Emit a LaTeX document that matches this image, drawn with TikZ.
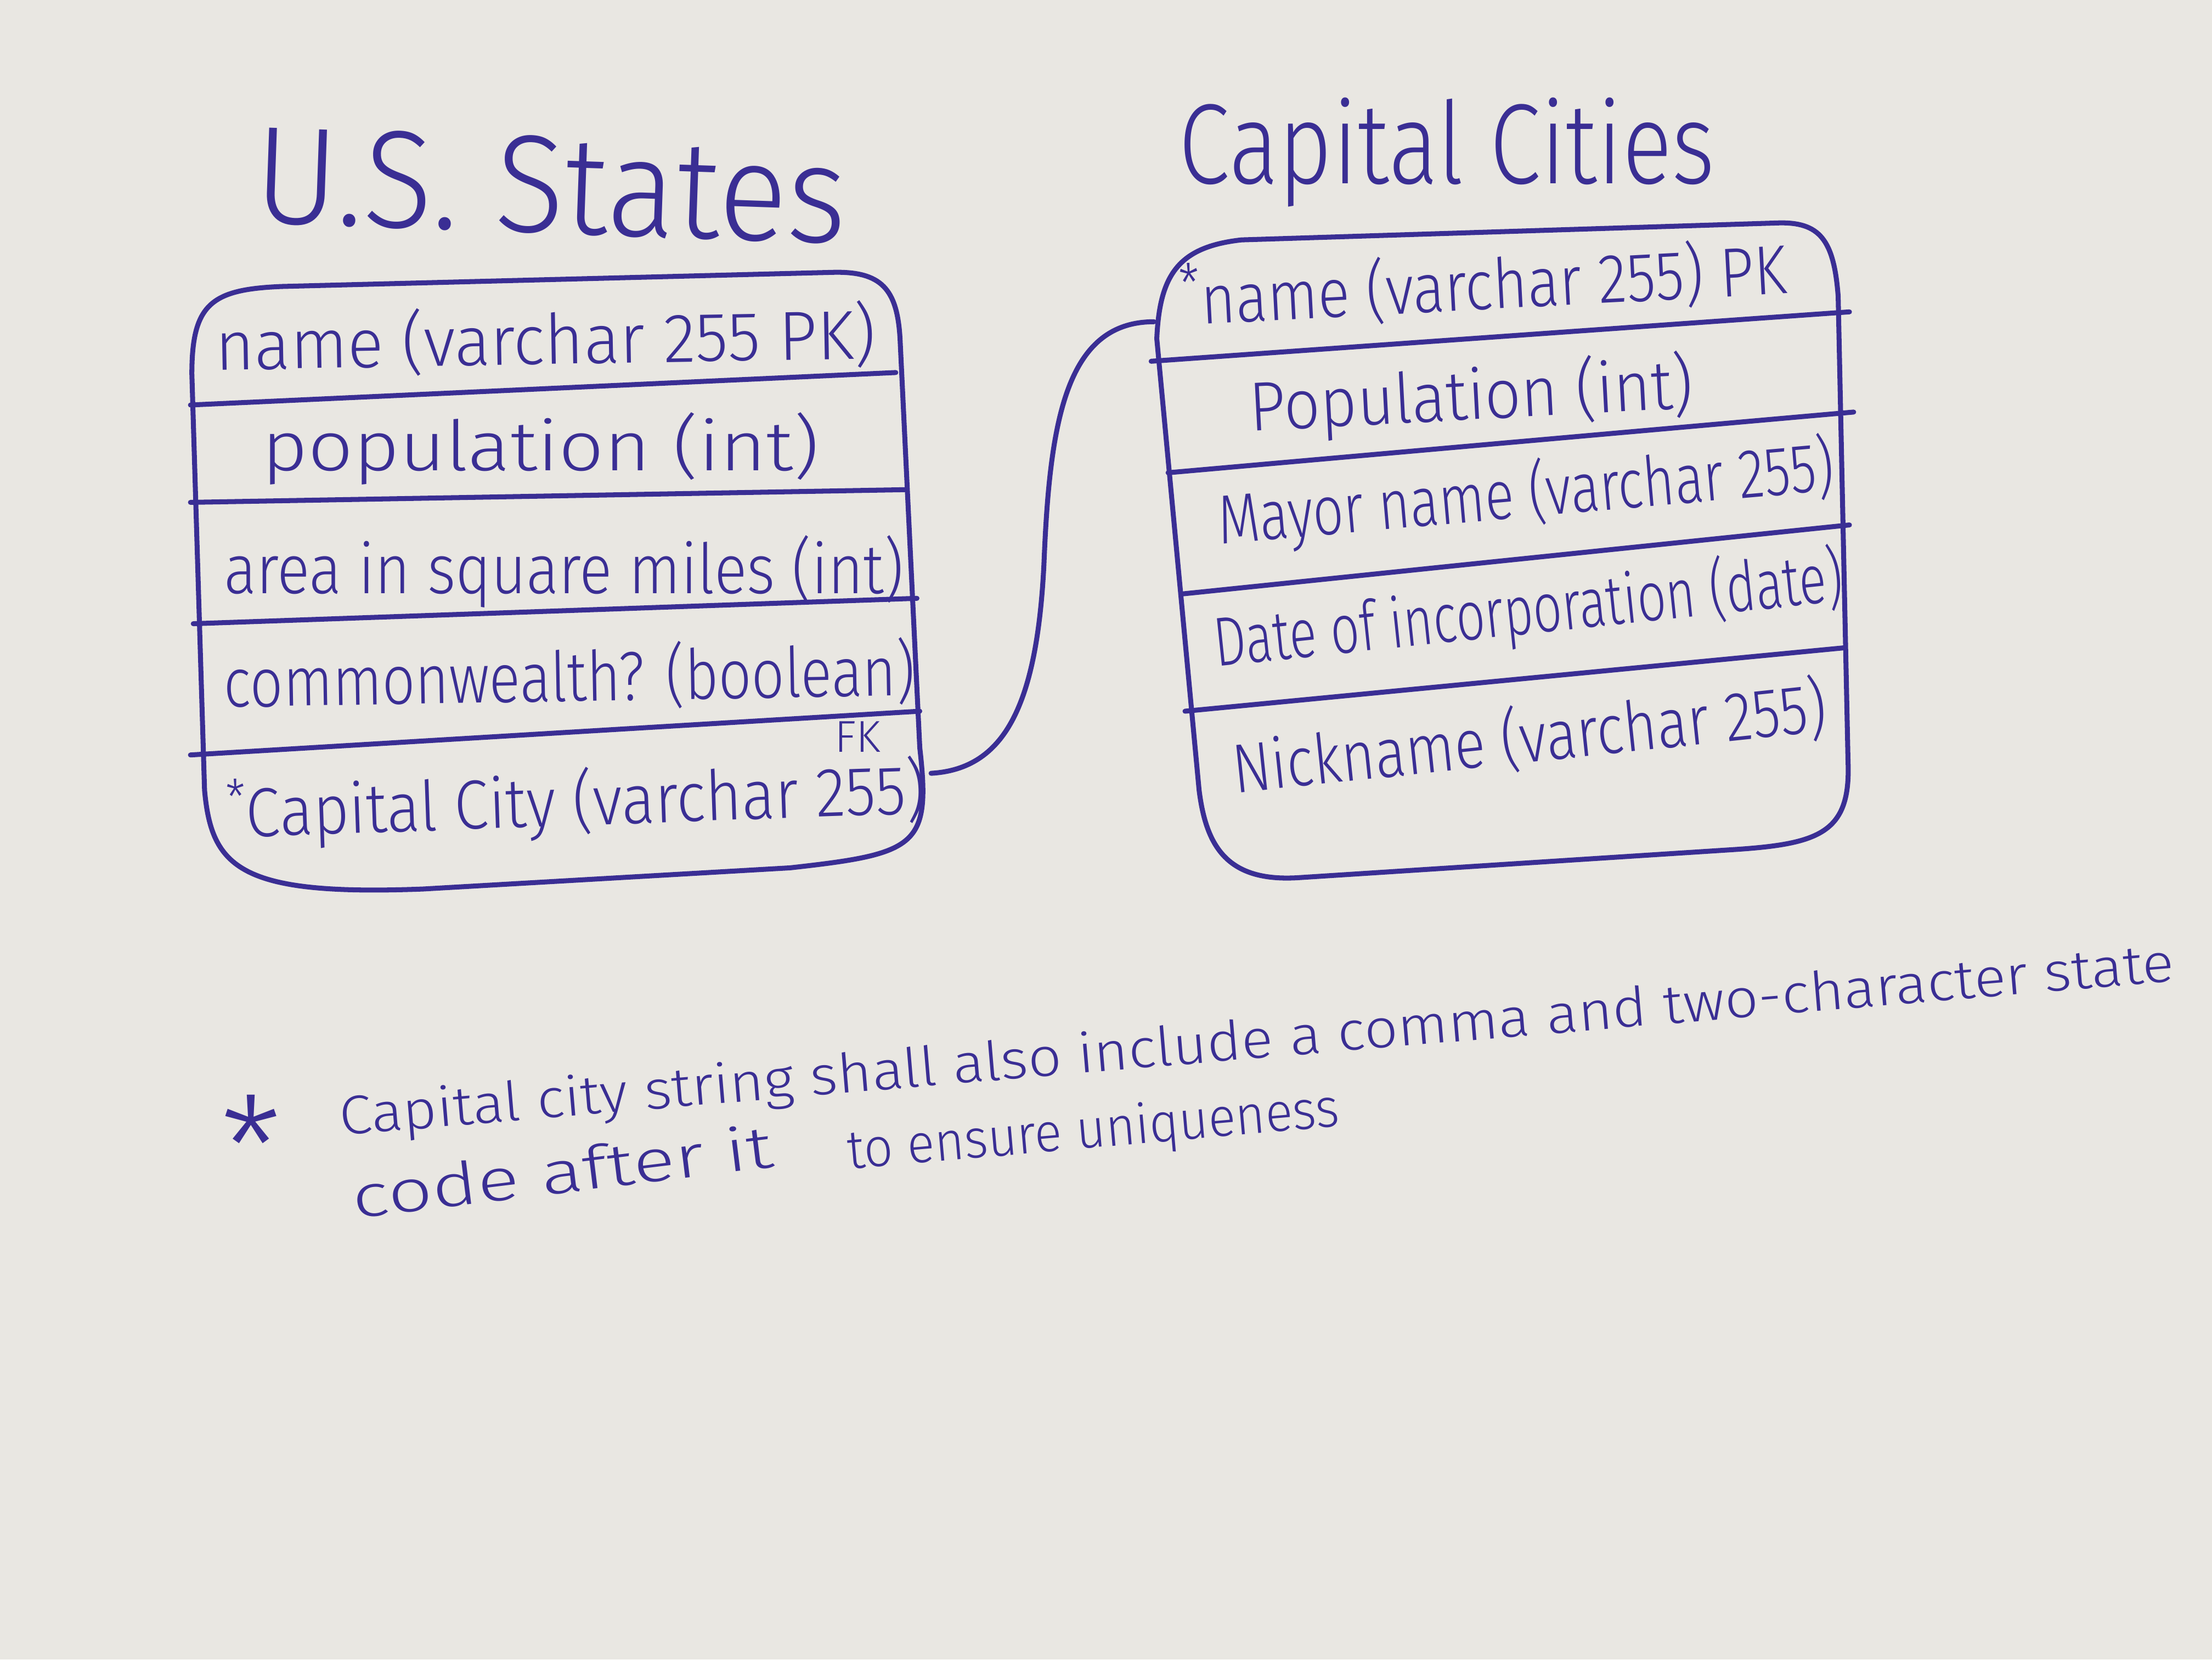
\documentclass[tikz,border=0pt]{standalone}
\usepackage{fontspec}
\setmainfont{Fira Sans Light}
\definecolor{ink}{HTML}{3A2E94}
\definecolor{paper}{HTML}{E9E7E2}
\newcommand\fitw[2]{\resizebox{#1}{\height}{#2}}
\newcommand\sz[1]{\fontsize{#1}{#1}\selectfont}
\begin{document}
\begin{tikzpicture}[x=0.1mm,y=-0.1mm,
  pen/.style={draw=ink,line width=1pt,line cap=round,line join=round},
  rowtext/.style={text=ink,anchor=west,inner sep=0pt,font=\sz{14}},
  title/.style={text=ink,anchor=west,inner sep=0pt},
  note/.style={text=ink,anchor=west,inner sep=0pt,font=\sz{11}}]
\fill[paper] (0,0) rectangle (1568,1176);
\useasboundingbox (0,0) rectangle (1568,1176);

% titles
\node[title,font=\sz{28},rotate=-2] (tstates) at (180,124) {\fitw{42mm}{U.S. States}};
\node[title,font=\sz{23},rotate=0] (tcities) at (835,108) {\fitw{38mm}{Capital Cities}};

% left table outline
\draw[pen] (136,265) .. controls (136,215) and (150,205) .. (200,203)
  -- (590,193) .. controls (625,192) and (636,205) .. (638,240)
  -- (652,530) .. controls (660,600) and (650,605) .. (560,615)
  -- (300,630) .. controls (170,635) and (150,615) .. (145,560) -- cycle;
\draw[pen] (135,287) -- (635,264);
\draw[pen] (135,356) -- (642,347);
\draw[pen] (137,442) -- (650,424);
\draw[pen] (135,535) -- (652,504);

\node[rowtext,rotate=1] (s1) at (152,245) {\fitw{46.8mm}{name (varchar 255 PK)}};
\node[rowtext,rotate=0] (s2) at (185,318) {\fitw{39.5mm}{population (int)}};
\node[rowtext,rotate=0] (s3) at (158,405) {\fitw{48.2mm}{area in square miles (int)}};
\node[rowtext,rotate=1] (s4) at (158,484) {\fitw{49mm}{commonwealth? (boolean)}};
\node[text=ink,inner sep=0pt,font=\sz{9}] (fk) at (608,522) {FK};
\node[rowtext,rotate=2] (s5) at (160,578) {\fitw{49.6mm}{\raisebox{0.6ex}{\sz{10}*}Capital City (varchar 255)}};

% right table outline
\draw[pen] (820,240) .. controls (822,195) and (835,175) .. (880,170)
  -- (1260,158) .. controls (1290,157) and (1300,170) .. (1303,210)
  -- (1310,540) .. controls (1312,590) and (1290,598) .. (1230,602)
  -- (920,622) .. controls (870,625) and (855,600) .. (850,560) -- cycle;
\draw[pen] (816,256) -- (1311,221);
\draw[pen] (828,335) -- (1314,292);
\draw[pen] (837,421) -- (1311,372);
\draw[pen] (840,504) -- (1308,459);

\node[rowtext,rotate=3] (c1) at (836,212) {\fitw{43mm}{\raisebox{0.6ex}{\sz{11}*}name (varchar 255) PK}};
\node[rowtext,rotate=3] (c2) at (885,290) {\fitw{31.5mm}{Population (int)}};
\node[rowtext,rotate=5] (c3) at (863,370) {\fitw{43.8mm}{Mayor name (varchar 255)}};
\node[rowtext,rotate=6] (c4) at (860,457) {\fitw{44.8mm}{Date of incorporation (date)}};
\node[rowtext,rotate=6] (c5) at (873,545) {\fitw{42.3mm}{Nickname (varchar 255)}};

% connector
\coordinate (lconn) at (660,548);
\coordinate (rconn) at (818,228);
\draw[pen] (lconn) .. controls (712,545) and (735,500) .. (740,400)
  .. controls (744,300) and (755,228) .. (rconn);

% footnote
\node[text=ink,inner sep=0pt,font=\sz{28}] (star) at (178,812) {*};
\node[note,rotate=4.8] (n1) at (240,794) {\fitw{130.5mm}{Capital city string shall also include a comma and two-character state}};
\node[note,font=\sz{12},rotate=7] (n2) at (249,848) {\fitw{30mm}{code after it}};
\node[note,rotate=5] (n3) at (600,818) {\fitw{35mm}{to ensure uniqueness}};
\end{tikzpicture}
\end{document}
